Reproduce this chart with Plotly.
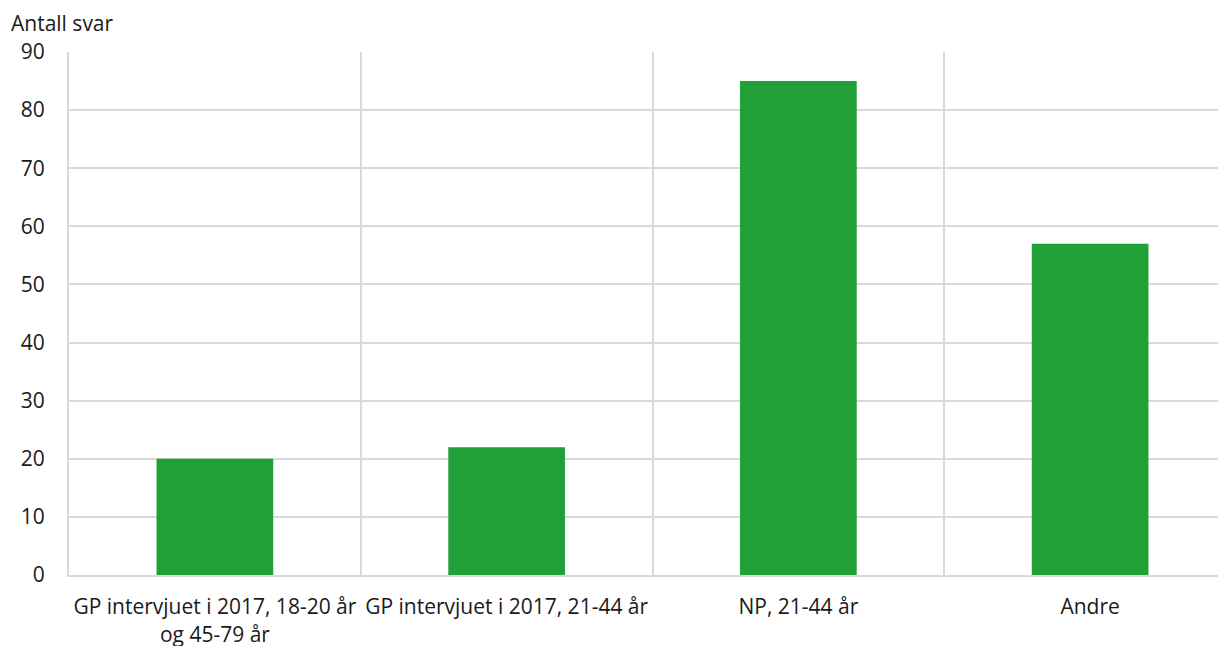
import plotly.graph_objects as go

categories = ["GP intervjuet i 2017, 18-20 år<br>og 45-79 år", "GP intervjuet i 2017, 21-44 år", "NP, 21-44 år", "Andre"]
values = [20, 22, 85, 57]
y_title = "Antall svar"

x_pos = list(range(len(categories)))

fig = go.Figure()
fig.add_trace(go.Bar(x=x_pos, y=values, marker=dict(color="#21a038", line=dict(width=0)), width=0.4))

fig.update_layout(
    width=1228, height=646,
    margin=dict(l=61, r=0, t=44, b=79),
    plot_bgcolor="white", paper_bgcolor="white",
    font=dict(family="Open Sans", size=21, color="#1a1a1a"),
    showlegend=False,
)
fig.update_xaxes(
    range=[-0.5, 3.5],
    tickvals=x_pos, ticktext=categories,
    showgrid=False, zeroline=False,
    showline=True, linecolor="#d9d9d9", linewidth=2,
    ticks="", ticklabelstandoff=12,
    minor=dict(tickvals=[0.5, 1.5, 2.5], showgrid=True, gridcolor="#d9d9d9", gridwidth=2, ticks=""),
)
fig.update_yaxes(
    range=[0, 90], dtick=10,
    showgrid=True, gridcolor="#d9d9d9", gridwidth=2,
    zeroline=False, showline=True, linecolor="#d9d9d9", linewidth=2,
    ticks="", ticklabelstandoff=18,
)
fig.add_annotation(text=y_title, xref="paper", yref="paper", x=0, y=1, xshift=-59, yshift=29,
                   xanchor="left", yanchor="middle", showarrow=False, borderpad=0, font=dict(size=21))
fig.write_html("out.html")
